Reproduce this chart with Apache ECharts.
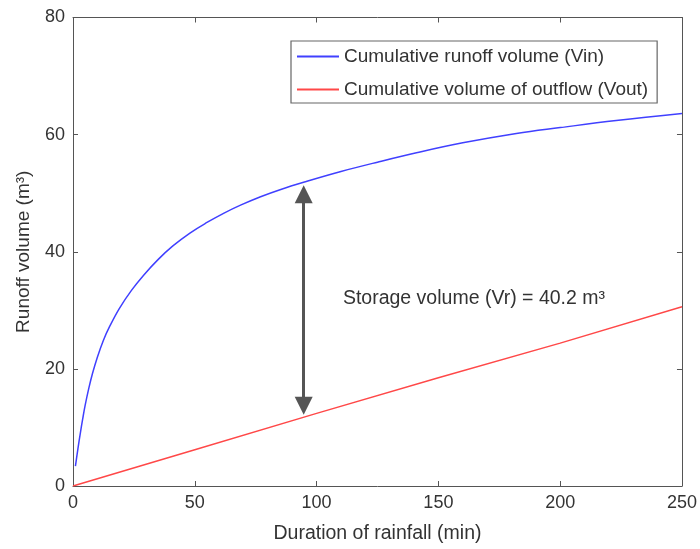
<!DOCTYPE html>
<html>
<head>
<meta charset="utf-8">
<script src="https://cdn.jsdelivr.net/npm/echarts@6/dist/echarts.min.js"></script>
<style>html,body{margin:0;padding:0;background:#fff;}#c{width:700px;height:549px;}</style>
</head>
<body>
<div id="c"></div>
<script>
// Data
var vinTime  = [1, 2, 3, 4, 5, 6.5, 8, 10, 12.5, 15, 19, 24, 29, 35, 41, 48, 55, 62, 69, 77, 85, 95, 110, 125, 141, 160, 182, 200, 223, 250];
var vinValue = [3.4, 6.3, 9.0, 11.5, 13.8, 16.7, 19.2, 22.0, 24.9, 27.2, 30.3, 33.4, 36.0, 38.7, 41.0, 43.2, 45.0, 46.6, 48.0, 49.4, 50.6, 51.9, 53.7, 55.3, 56.9, 58.6, 60.2, 61.2, 62.4, 63.6];
var voutTime  = [0, 50, 100, 150, 200, 250];
var voutValue = [0, 6.2, 12.4, 18.5, 24.4, 30.6];
var seriesNames = ['Cumulative runoff volume (Vin)', 'Cumulative volume of outflow (Vout)'];
var xTicks = [0, 50, 100, 150, 200, 250];
var yTicks = [0, 20, 40, 60, 80];
// double arrow: x position and the centres of its two heads
var arrowX = 94.7, arrowFrom = 13.7, arrowTo = 49.8;
var noteText = 'Storage volume (Vr) = 40.2 m\u00B3';
var notePos = [110.8, 32.0];
var xName = 'Duration of rainfall (min)';
var yName = 'Runoff volume (m\u00B3)';

function pairs(t, v) { return t.map(function (x, i) { return [x, v[i]]; }); }

var FONT = 'Liberation Sans, Arial, Helvetica, sans-serif';
var TXT = '#333';
var AX = '#555';

function axisCommon(showLabels) {
  return {
    axisLine: { show: true, onZero: false, lineStyle: { color: AX, width: 1 } },
    axisTick: { show: true, inside: true, length: 5, lineStyle: { color: AX, width: 1 } },
    splitLine: { show: false },
    axisLabel: { show: showLabels, color: TXT, fontSize: 18, fontFamily: FONT }
  };
}

var xMin = xTicks[0], xMax = xTicks[xTicks.length - 1], xInt = xTicks[1] - xTicks[0];
var yMin = yTicks[0], yMax = yTicks[yTicks.length - 1], yInt = yTicks[1] - yTicks[0];

var chart = echarts.init(document.getElementById('c'), null, { renderer: 'canvas' });
chart.setOption({
  animation: false,
  backgroundColor: '#fff',
  grid: { left: 73, right: 18, top: 17.5, bottom: 56, containLabel: false },
  legend: {
    left: 291, top: 41, orient: 'vertical', icon: 'rect',
    padding: [6, 9, 4, 6], itemGap: 14, itemWidth: 42, itemHeight: 2,
    backgroundColor: '#fff', borderColor: '#666', borderWidth: 1.2,
    textStyle: { color: TXT, fontSize: 19, fontFamily: FONT },
    data: seriesNames
  },
  xAxis: [
    Object.assign(axisCommon(true), {
      type: 'value', position: 'bottom', min: xMin, max: xMax, interval: xInt,
      name: xName, nameLocation: 'middle', nameGap: 38,
      nameTextStyle: { color: TXT, fontSize: 19.5, fontFamily: FONT }
    }),
    Object.assign(axisCommon(false), { type: 'value', position: 'top', min: xMin, max: xMax, interval: xInt })
  ],
  yAxis: [
    Object.assign(axisCommon(true), {
      type: 'value', position: 'left', min: yMin, max: yMax, interval: yInt,
      name: yName, nameLocation: 'middle', nameGap: 40,
      nameTextStyle: { color: TXT, fontSize: 19, fontFamily: FONT }
    }),
    Object.assign(axisCommon(false), { type: 'value', position: 'right', min: yMin, max: yMax, interval: yInt })
  ],
  series: [
    {
      name: seriesNames[0], type: 'line', data: pairs(vinTime, vinValue),
      symbol: 'none', smooth: 0.4,
      lineStyle: { color: '#4040ff', width: 1.5 }, itemStyle: { color: '#4040ff' }
    },
    {
      name: seriesNames[1], type: 'line', data: pairs(voutTime, voutValue),
      symbol: 'none',
      lineStyle: { color: '#ff4848', width: 1.5 }, itemStyle: { color: '#ff4848' },
      markLine: {
        silent: true, symbol: ['triangle', 'triangle'], symbolSize: [18, 18],
        label: { show: false },
        lineStyle: { color: '#555', width: 3, type: 'solid' },
        itemStyle: { color: '#555' },
        data: [[{ coord: [arrowX, arrowFrom] }, { coord: [arrowX, arrowTo] }]]
      },
      markPoint: {
        silent: true, symbol: 'circle', symbolSize: 0,
        data: [{ coord: notePos }],
        label: { show: true, position: 'right', distance: 0, formatter: noteText, color: TXT, fontSize: 19.5, fontFamily: FONT }
      }
    }
  ]
});
</script>
</body>
</html>
